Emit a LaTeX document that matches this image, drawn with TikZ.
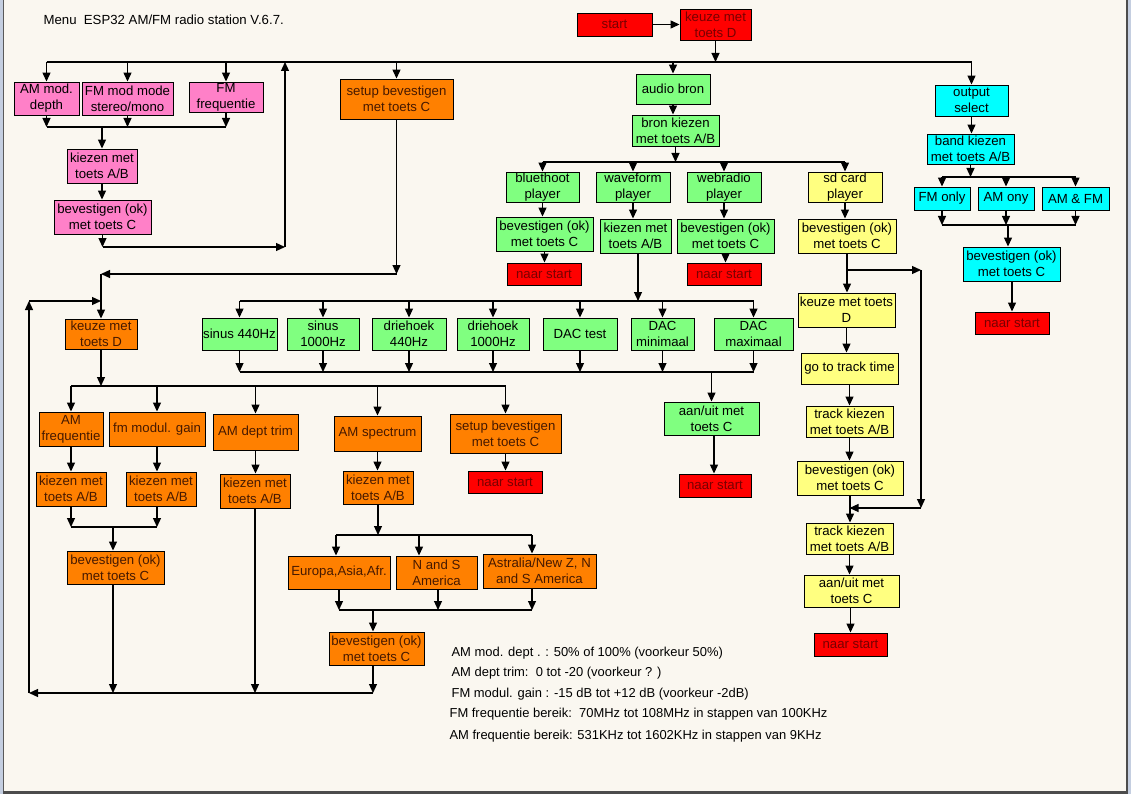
\documentclass[tikz,border=0pt]{standalone}
\usepackage{fontspec}
\setmainfont{Liberation Sans}
\usetikzlibrary{arrows.meta}
\definecolor{kroze}{RGB}{255,128,200}
\definecolor{koranje}{RGB}{255,128,0}
\definecolor{kgroen}{RGB}{128,255,128}
\definecolor{kgeel}{RGB}{255,255,128}
\definecolor{kcyaan}{RGB}{0,255,255}
\definecolor{krood}{RGB}{255,0,0}
\definecolor{ktrood}{RGB}{120,0,0}
\definecolor{ktoranje}{RGB}{70,25,0}
\definecolor{kachter}{RGB}{250,247,240}
\definecolor{krand}{RGB}{196,206,224}
\tikzset{
  blok/.style={draw, line width=0.9pt, align=center, inner sep=0pt, font=\fontsize{13.2}{16}\selectfont},
  wh/.style 2 args={minimum width=#1pt, minimum height=#2pt},
  roos/.style={blok, fill=kroze},
  oranje/.style={blok, fill=koranje, text=ktoranje},
  groen/.style={blok, fill=kgroen},
  geel/.style={blok, fill=kgeel},
  cyaan/.style={blok, fill=kcyaan},
  rood/.style={blok, fill=krood, text=ktrood},
  noot/.style={anchor=west, inner sep=0pt, font=\fontsize{12.95}{16}\selectfont}
}
\begin{document}
\begin{tikzpicture}[x=1pt, y=-1pt, line width=1.2pt, >={Triangle[width=8pt,length=9pt]}]
        %achtergrond
        \fill[krand] (0,0) rectangle (1131,794);
        \fill[kachter] (4,0) rectangle (1126,791);
        \fill[black!65] (3,0) rectangle (4,791);
        \fill[black!70] (1126,0) rectangle (1128,794);
        \fill[black!70] (3,791) rectangle (1128,794);
        \useasboundingbox (0,0) rectangle (1131,794);
        %titel
        \node[noot, font=\fontsize{13.2}{16}\selectfont] (titel) at (43,20) {Menu\ \ ESP32 AM/FM radio station V.6.7.};
        %start
        \node[rood, wh={75}{23}] (start) at (614.5,24.5) {start};
        \node[rood, wh={71}{31}] (keuze) at (715.5,24.5) {keuze met\\toets D};
        \draw[->] (start) -- (keuze);
        %blokken roze
        \node[roos, wh={65}{33}] (amdepth) at (46.5,98.5) {AM mod.\\depth};
        \node[roos, wh={91}{33}] (fmmode) at (127.5,98.5) {FM mod mode\\stereo/mono};
        \node[roos, wh={74}{30}] (fmfreq) at (226,97) {FM\\frequentie};
        \node[roos, wh={70}{34}] (pkiezen) at (102,166) {kiezen met\\toets A/B};
        \node[roos, wh={97}{34}] (pbev) at (102.5,217) {bevestigen (ok)\\met toets C};
        %blokken oranje
        \node[oranje, wh={113}{40}] (setup) at (396.5,99) {setup bevestigen\\met toets C};
        \node[oranje, wh={72}{30}] (okeuze) at (101,334) {keuze met\\toets D};
        \node[oranje, wh={64}{34}] (amfreq) at (71,429) {AM\\frequentie};
        \node[oranje, wh={96}{34}] (fmgain) at (157,429) {fm modul. gain};
        \node[oranje, wh={85}{36}] (amtrim) at (255.5,432) {AM dept trim};
        \node[oranje, wh={87}{35}] (amspec) at (377.5,433.5) {AM spectrum};
        \node[oranje, wh={111}{39}] (setup2) at (505.5,433.5) {setup bevestigen\\met toets C};
        \node[rood, wh={74}{22}] (nstart4) at (505,482) {naar start};
        \node[oranje, wh={70}{34}] (k1) at (71,489) {kiezen met\\toets A/B};
        \node[oranje, wh={70}{34}] (k2) at (161,489) {kiezen met\\toets A/B};
        \node[oranje, wh={70}{34}] (k3) at (255,491) {kiezen met\\toets A/B};
        \node[oranje, wh={70}{33}] (k4) at (378,487.5) {kiezen met\\toets A/B};
        \node[oranje, wh={97}{33}] (obev1) at (115.5,567.5) {bevestigen (ok)\\met toets C};
        \node[oranje, wh={102}{33}] (europa) at (339,572.5) {Europa,Asia,Afr.};
        \node[oranje, wh={81}{33}] (nands) at (436.5,572.5) {N and S\\America};
        \node[oranje, wh={113}{34}] (astr) at (539.5,571) {Astralia/New Z, N\\and S America};
        \node[oranje, wh={95}{33}] (obev2) at (376.5,648.5) {bevestigen (ok)\\met toets C};
        %blokken groen
        \node[groen, wh={74}{30}] (audio) at (673,89) {audio bron};
        \node[groen, wh={87}{31}] (bronkiezen) at (675.5,130.5) {bron kiezen\\met toets A/B};
        \node[groen, wh={73}{30}] (bluethoot) at (542.5,187) {bluethoot\\player};
        \node[groen, wh={74}{30}] (waveform) at (633,187) {waveform\\player};
        \node[groen, wh={74}{30}] (webradio) at (724,187) {webradio\\player};
        \node[groen, wh={97}{34}] (gbev1) at (544.5,234) {bevestigen (ok)\\met toets C};
        \node[groen, wh={71}{34}] (gkiezen) at (635.5,236) {kiezen met\\toets A/B};
        \node[groen, wh={97}{34}] (gbev2) at (725.5,236) {bevestigen (ok)\\met toets C};
        \node[rood, wh={74}{22}] (nstart1) at (544,274) {naar start};
        \node[rood, wh={74}{22}] (nstart2) at (724,274) {naar start};
        \node[groen, wh={75}{32}] (s440) at (239.5,334) {sinus 440Hz};
        \node[groen, wh={72}{32}] (s1000) at (323,334) {sinus\\1000Hz};
        \node[groen, wh={74}{32}] (d440) at (409,334) {driehoek\\440Hz};
        \node[groen, wh={72}{32}] (d1000) at (493,334) {driehoek\\1000Hz};
        \node[groen, wh={74}{32}] (dactest) at (580,334) {DAC test};
        \node[groen, wh={63}{32}] (dacmin) at (662.5,334) {DAC\\minimaal};
        \node[groen, wh={79}{32}] (dacmax) at (753.5,334) {DAC\\maximaal};
        \node[groen, wh={95}{33}] (aanuit) at (711.5,418.5) {aan/uit met\\toets C};
        \node[rood, wh={72}{23}] (nstart3) at (715,485.5) {naar start};
        %blokken geel
        \node[geel, wh={74}{30}] (sdcard) at (845,187) {sd card\\player};
        \node[geel, wh={98}{34}] (ybev1) at (847,236) {bevestigen (ok)\\met toets C};
        \node[geel, wh={97}{34}] (ykeuze) at (846.5,310) {keuze met toets\\D};
        \node[geel, wh={97}{31}] (gotrack) at (849.5,368.5) {go to track time};
        \node[geel, wh={87}{31}] (track1) at (849.5,421.5) {track kiezen\\met toets A/B};
        \node[geel, wh={106}{34}] (ybev2) at (850,478) {bevestigen (ok)\\met toets C};
        \node[geel, wh={87}{31}] (track2) at (849.5,538.5) {track kiezen\\met toets A/B};
        \node[geel, wh={95}{32}] (yaanuit) at (851.5,591) {aan/uit met\\toets C};
        \node[rood, wh={73}{23}] (nstart5) at (850.5,644.5) {naar start};
        %blokken cyaan
        \node[cyaan, wh={73}{31}] (outsel) at (971.5,100.5) {output\\select};
        \node[cyaan, wh={87}{30}] (band) at (970.5,149) {band kiezen\\met toets A/B};
        \node[cyaan, wh={56}{23}] (fmonly) at (942,198.5) {FM only};
        \node[cyaan, wh={56}{23}] (amony) at (1006,198.5) {AM ony};
        \node[cyaan, wh={67}{23}] (amfm) at (1075.5,198.5) {AM \& FM};
        \node[cyaan, wh={97}{34}] (cbev) at (1011.5,264) {bevestigen (ok)\\met toets C};
        \node[rood, wh={74}{22}] (nstart6) at (1012,323) {naar start};
        %rails
        \coordinate (bus0) at (0,62);
        \coordinate (pbus) at (0,127);
        \coordinate (gbus) at (0,162);
        \coordinate (cbus1) at (0,177);
        \coordinate (cbus2) at (0,225);
        \coordinate (terug1) at (285,247);
        \coordinate (ytak) at (921,270);
        \coordinate (terug2) at (396.5,274);
        \coordinate (sbus1) at (0,301);
        \coordinate (lb) at (29,301);
        \coordinate (sbus2) at (0,372);
        \coordinate (obus1) at (0,386);
        \coordinate (yterug) at (921,508);
        \coordinate (obus2a) at (71,527);
        \coordinate (obus2b) at (157,527);
        \coordinate (obus3) at (0,535);
        \coordinate (obus4) at (0,610);
        \coordinate (lo) at (29,693);
        %pijlen boven
        \draw[->] (keuze.south) -- (keuze.south |- bus0);
        \draw (amdepth |- bus0) -- (outsel |- bus0);
        \foreach \n in {amdepth,fmmode,fmfreq,setup,audio,outsel}
            \draw[->] (\n |- bus0) -- (\n.north);
        %pijlen roze
        \foreach \n in {amdepth,fmmode,fmfreq}
            \draw[->] (\n.south) -- (\n.south |- pbus);
        \draw (amdepth |- pbus) -- (fmfreq |- pbus);
        \draw[->] (pkiezen |- pbus) -- (pkiezen.north);
        \draw[->] (pkiezen.south) -- (pkiezen.south |- pbev.north);
        \draw[->] (pbev.south) -- (pbev.south |- terug1);
        \draw[->] (pbev.south |- terug1) -- (terug1);
        \draw[->] (terug1) -- (terug1 |- bus0);
        %pijlen oranje
        \draw[->] (setup.south) -- (terug2);
        \draw[->] (terug2) -- (okeuze.north |- terug2);
        \draw[->] (okeuze.north |- terug2) -- (okeuze.north);
        \draw[->] (lo) -- (lb);
        \draw[->] (lb) -- (okeuze.north |- lb);
        \draw[->] (okeuze.south) -- (okeuze.south |- obus1);
        \draw (amfreq |- obus1) -- (setup2 |- obus1);
        \foreach \n in {amfreq,fmgain,amtrim,amspec,setup2}
            \draw[->] (\n |- obus1) -- (\n.north);
        \foreach \a/\b in {amfreq/k1, fmgain/k2, amtrim/k3, amspec/k4, setup2/nstart4}
            \draw[->] (\a.south) -- (\a.south |- \b.north);
        \draw[->] (k1.south) -- (obus2a);
        \draw[->] (k2.south -| obus2b) -- (obus2b);
        \draw (obus2a) -- (obus2b);
        \draw[->] ([xshift=-2.5pt]obev1.north |- obus2a) -- ([xshift=-2.5pt]obev1.north);
        \draw[->] ([xshift=-2.5pt]obev1.south) -- ([xshift=-2.5pt]obev1.south |- lo);
        \draw[->] (k3.south) -- (k3.south |- lo);
        \draw[->] (k4.south) -- (k4.south |- obus3);
        \draw ([xshift=-3pt]europa.north |- obus3) -- ([xshift=-7.5pt]astr.north |- obus3);
        \draw[->] ([xshift=-3pt]europa.north |- obus3) -- ([xshift=-3pt]europa.north);
        \draw[->] ([xshift=-17.5pt]nands.north |- obus3) -- ([xshift=-17.5pt]nands.north);
        \draw[->] ([xshift=-7.5pt]astr.north |- obus3) -- ([xshift=-7.5pt]astr.north);
        \draw[->] (europa.south) -- (europa.south |- obus4);
        \draw[->] ([xshift=1.5pt]nands.south) -- ([xshift=1.5pt]nands.south |- obus4);
        \draw[->] ([xshift=-7.5pt]astr.south) -- ([xshift=-7.5pt]astr.south |- obus4);
        \draw (europa.south |- obus4) -- ([xshift=-7.5pt]astr.south |- obus4);
        \draw[->] ([xshift=-3.5pt]obev2.north |- obus4) -- ([xshift=-3.5pt]obev2.north);
        \draw[->] ([xshift=-3.5pt]obev2.south) -- ([xshift=-3.5pt]obev2.south |- lo);
        \draw[->] ([xshift=-3.5pt]obev2.south |- lo) -- (lo);
        %pijlen groen
        \draw[->] (audio.south) -- (audio.south |- bronkiezen.north);
        \draw[->] (bronkiezen.south) -- (bronkiezen.south |- gbus);
        \draw (bluethoot |- gbus) -- (sdcard |- gbus);
        \foreach \n in {bluethoot,waveform,webradio,sdcard}
            \draw[->] (\n |- gbus) -- (\n.north);
        \foreach \a/\b in {bluethoot/gbev1, waveform/gkiezen, webradio/gbev2, sdcard/ybev1, gbev1/nstart1, gbev2/nstart2}
            \draw[->] (\a.south) -- (\a.south |- \b.north);
        \draw[->] ([xshift=2.5pt]gkiezen.south) -- ([xshift=2.5pt]gkiezen.south |- sbus1);
        \draw (s440 |- sbus1) -- (dacmax |- sbus1);
        \draw (s440 |- sbus2) -- (dacmax |- sbus2);
        \foreach \n in {s440,s1000,d440,d1000,dactest,dacmin,dacmax}{
            \draw[->] (\n |- sbus1) -- (\n.north);
            \draw[->] (\n.south) -- (\n.south |- sbus2);
        }
        \draw[->] (aanuit.north |- sbus2) -- (aanuit.north);
        \draw[->] ([xshift=2.5pt]aanuit.south) -- ([xshift=2.5pt]aanuit.south |- nstart3.north);
        %pijlen geel
        \draw[->] (ybev1.south) -- (ybev1.south |- ykeuze.north);
        \draw[->] (ybev1.south |- ytak) -- (ytak);
        \draw[->] (ytak) -- (yterug);
        \draw[->] (yterug) -- (track2.north |- yterug);
        \foreach \a/\b in {ykeuze/gotrack, gotrack/track1, track1/ybev2, ybev2/track2, track2/yaanuit}
            \draw[->] (\a.south) -- (\a.south |- \b.north);
        \draw[->] (yaanuit.south -| nstart5) -- (nstart5.north);
        %pijlen cyaan
        \draw[->] (outsel.south) -- (outsel.south |- band.north);
        \draw[->] (band.south) -- (band.south |- cbus1);
        \draw (fmonly |- cbus1) -- (amfm |- cbus1);
        \draw (fmonly |- cbus2) -- (amfm |- cbus2);
        \foreach \n in {fmonly,amony,amfm}{
            \draw[->] (\n |- cbus1) -- (\n.north);
            \draw[->] (\n.south) -- (\n.south |- cbus2);
        }
        \draw[->] ([xshift=-3.5pt]cbev.north |- cbus2) -- ([xshift=-3.5pt]cbev.north);
        \draw[->] (cbev.south -| nstart6) -- (nstart6.north);
        %noten
        \node[noot] (noot1) at (451,653) {AM mod. dept . : 50\% of 100\% (voorkeur 50\%)};
        \node[noot] (noot2) at (451,673) {AM dept trim:\ \ 0 tot -20 (voorkeur ? )};
        \node[noot] (noot3) at (451,694) {FM modul. gain : -15 dB tot +12 dB (voorkeur -2dB)};
        \node[noot] (noot4) at (449,714) {FM frequentie bereik:\ \ 70MHz tot 108MHz in stappen van 100KHz};
        \node[noot] (noot5) at (449,736) {AM frequentie bereik: 531KHz tot 1602KHz in stappen van 9KHz};
\end{tikzpicture}
\end{document}
